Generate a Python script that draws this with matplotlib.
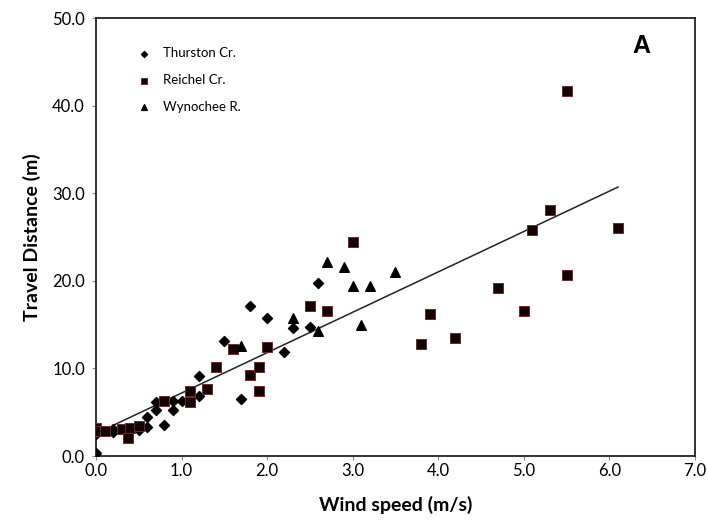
import numpy as np
import matplotlib.pyplot as plt

# Thurston Cr. (diamonds)
thurston_x = [0.0, 0.0, 0.2, 0.2, 0.5, 0.6, 0.6, 0.7, 0.7, 0.8, 0.9, 0.9, 1.0,
              1.2, 1.2, 1.5, 1.7, 1.8, 2.0, 2.2, 2.3, 2.5, 2.6]
thurston_y = [0.3, 2.5, 3.1, 2.7, 3.0, 3.3, 4.4, 5.2, 6.2, 3.5, 5.2, 6.3, 6.3,
              6.8, 9.1, 13.1, 6.5, 17.1, 15.8, 11.9, 14.6, 14.7, 19.7]

# Reichel Cr. (squares)
reichel_x = [0.0, 0.0, 0.1, 0.3, 0.37, 0.4, 0.5, 0.8, 1.1, 1.1, 1.3, 1.4, 1.6,
             1.8, 1.9, 1.9, 2.0, 2.5, 2.7, 3.0, 3.8, 3.9, 4.2, 4.7, 5.0, 5.1,
             5.3, 5.5, 5.5, 6.1]
reichel_y = [3.2, 2.8, 2.9, 3.1, 2.0, 3.2, 3.4, 6.3, 6.2, 7.4, 7.7, 10.2, 12.2,
             9.2, 10.2, 7.4, 12.4, 17.1, 16.5, 24.4, 12.8, 16.2, 13.5, 19.2,
             16.5, 25.8, 28.1, 41.7, 20.7, 26.0]

# Wynochee R. (triangles)
wynochee_x = [1.7, 2.3, 2.6, 2.7, 2.9, 3.0, 3.1, 3.2, 3.5]
wynochee_y = [12.6, 15.7, 14.3, 22.2, 21.6, 19.4, 14.9, 19.4, 21.0]

# linear trend line
trend_x = [0.2, 6.1]
trend_y = [3.5, 30.7]

x_ticks = [0, 1, 2, 3, 4, 5, 6, 7]
y_ticks = [0, 10, 20, 30, 40, 50]

fig = plt.figure(figsize=(7.08, 5.22), dpi=100)
ax = fig.add_axes([0.1356, 0.1264, 0.8460, 0.8391])

ax.plot(trend_x, trend_y, color="#222222", lw=1.1, zorder=2)

ax.scatter(thurston_x, thurston_y, marker="D", s=26, color="black",
           label="Thurston Cr.", zorder=3)
ax.scatter(reichel_x, reichel_y, marker="s", s=52, facecolor="#140202",
           edgecolor="#6e2a2a", linewidths=0.7, label="Reichel Cr.", zorder=3)
ax.scatter(wynochee_x, wynochee_y, marker="^", s=48, color="black",
           label="Wynochee R.", zorder=3)

ax.set_xlim(0, 7)
ax.set_ylim(0, 50)
ax.set_xticks(x_ticks)
ax.set_yticks(y_ticks)
ax.set_xticklabels([f"{v:.1f}" for v in x_ticks], fontfamily="Lato", fontsize=12)
ax.set_yticklabels([f"{v:.1f}" for v in y_ticks], fontfamily="Lato", fontsize=12)
ax.tick_params(direction="out", length=3, width=0.8, color="#888888")
ax.tick_params(axis="y", pad=5)
ax.tick_params(axis="x", pad=2)

for sp in ax.spines.values():
    sp.set_linewidth(1.3)
    sp.set_color("#222222")

ax.set_xlabel("Wind speed (m/s)", fontfamily="Lato", fontweight="bold",
              fontsize=14, labelpad=12)
ax.set_ylabel("Travel Distance (m)", fontfamily="Lato", fontweight="bold",
              fontsize=14, labelpad=8)

ax.text(0.91, 0.937, "A", transform=ax.transAxes, fontsize=18,
        fontfamily="Liberation Sans", fontweight="bold", ha="center", va="center")

leg = ax.legend(loc="upper left", bbox_to_anchor=(0.05, 0.96), frameon=False,
                markerscale=0.6, handlelength=1.0, handletextpad=0.9,
                labelspacing=1.12, prop={"family": "Lato", "size": 9.5})

fig.savefig("out.png", dpi=100)
